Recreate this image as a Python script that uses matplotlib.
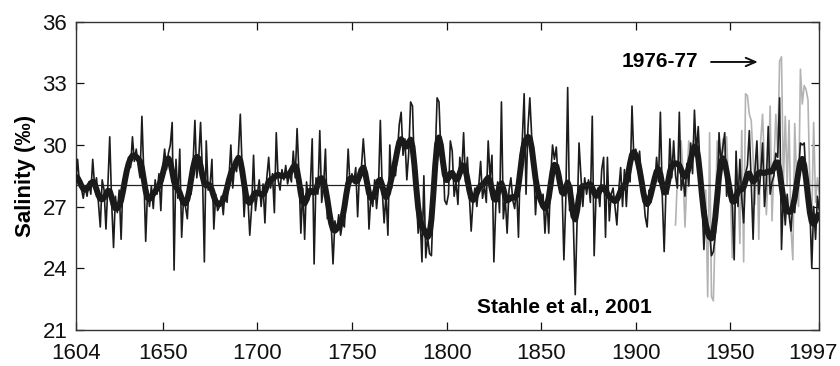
import numpy as np
import matplotlib
matplotlib.use("Agg")
import matplotlib.pyplot as plt
from matplotlib.transforms import ScaledTranslation

plt.rcParams['font.family'] = ['Liberation Sans', 'DejaVu Sans']

# Reconstructed annual salinity (per mille), 1604-1997, split by century
recon_1600s = [
    28.2, 29.3, 28.1, 27.9, 27.4, 28.0,
    27.5, 28.2, 27.6, 29.3, 28.0, 28.4, 27.2, 26.0, 28.3, 27.8,
    25.9, 28.0, 30.4, 27.2, 25.0, 27.5, 26.7, 27.8, 25.4, 28.2,
    28.6, 28.9, 29.4, 28.9, 30.4, 29.2, 29.8, 29.0, 28.4, 31.4,
    28.6, 25.3, 27.8, 27.0, 28.0, 26.9, 28.3, 27.6, 28.6, 26.8,
    28.9, 29.8, 28.8, 29.6, 30.0, 31.1, 23.9, 29.3, 27.4, 29.8,
    25.5, 27.4, 27.0, 26.4, 28.2, 27.6, 29.0, 31.2, 28.4, 29.3,
    31.1, 28.6, 24.3, 30.2, 27.8, 28.0, 29.3, 25.9, 27.6, 26.8,
    27.0, 27.5, 26.6, 27.9, 27.2, 28.4, 30.0, 27.9, 29.1, 28.7,
    29.6, 31.5, 28.8, 26.5, 28.0, 27.4, 25.6, 27.0, 29.5, 26.8,
]
recon_1700s = [
    27.6, 28.3, 27.0, 28.1, 26.2, 28.4, 29.4, 27.9, 28.6, 26.7,
    30.6, 28.3, 27.8, 28.8, 28.3, 29.0, 28.1, 28.6, 28.2, 29.7,
    28.4, 30.8, 28.6, 25.7, 27.9, 25.4, 28.2, 27.3, 28.0, 30.3,
    24.2, 28.4, 27.6, 30.7, 27.2, 28.0, 29.8, 26.4, 27.0, 26.2,
    24.2, 26.3, 25.8, 26.6, 25.6, 26.2, 26.0, 27.8, 29.8, 28.0,
    28.6, 28.2, 28.9, 26.5, 28.7, 28.9, 30.3, 29.0, 28.6, 25.9,
    27.5, 27.0, 28.3, 26.9, 27.9, 31.2, 27.8, 26.2, 27.6, 25.6,
    30.0, 27.9, 29.0, 28.5, 29.6, 31.0, 31.6, 29.5, 30.3, 28.3,
    29.6, 32.1, 31.9, 28.8, 27.5, 25.7, 26.5, 24.3, 28.5, 24.5,
    25.5, 24.7, 24.6, 27.2, 29.4, 32.3, 32.1, 29.6, 29.9, 27.3,
]
recon_1800s = [
    27.1, 27.6, 30.2, 29.7, 27.5, 28.2, 27.1, 29.4, 28.6, 30.6,
    28.2, 29.4, 27.6, 25.8, 27.3, 27.9, 27.0, 28.0, 29.2, 27.4,
    28.0, 27.2, 30.2, 28.4, 29.5, 24.3, 27.0, 28.2, 26.7, 32.1,
    26.4, 27.4, 25.7, 27.8, 28.4, 27.3, 26.9, 28.0, 25.5, 29.4,
    30.2, 32.5, 27.6, 30.8, 32.3, 30.4, 29.2, 26.6, 28.2, 27.6,
    27.0, 27.6, 25.7, 27.4, 25.7, 28.4, 30.0, 29.3, 29.9, 28.2,
    28.6, 28.0, 24.4, 27.3, 32.8, 26.8, 28.0, 26.2, 22.7, 26.5,
    30.1, 28.5, 27.0, 28.4, 27.6, 28.3, 27.2, 31.4, 24.6, 27.6,
    27.9, 27.0, 28.8, 29.4, 25.5, 29.4, 26.3, 27.6, 27.9, 27.0,
    26.1, 27.8, 28.9, 27.0, 28.8, 27.0, 28.7, 28.2, 31.9, 29.3,
]
recon_1900s = [
    29.8, 28.8, 29.7, 28.3, 27.6, 26.5, 26.0, 27.8, 27.2, 28.3,
    28.0, 29.4, 28.2, 31.6, 27.5, 24.8, 28.0, 27.6, 30.3, 28.4,
    30.2, 28.5, 27.9, 31.6, 27.8, 28.4, 27.5, 29.1, 28.0, 30.1,
    28.6, 31.7, 29.6, 30.9, 28.8, 27.2, 24.9, 26.8, 25.5, 25.8,
    24.6, 24.8, 25.6, 27.0, 30.6, 29.1, 29.9, 30.6, 27.5, 28.6,
    27.8, 27.0, 24.4, 29.7, 27.0, 29.3, 27.4, 26.2, 28.6, 29.0,
    30.7, 28.2, 25.4, 28.8, 30.2, 27.6, 28.6, 30.1, 27.0, 28.2,
    30.9, 27.6, 28.2, 28.5, 29.6, 29.4, 32.3, 24.9, 27.6, 26.1,
    27.6, 26.6, 25.8, 27.2, 26.7, 28.2, 28.6, 30.1, 30.0, 30.1,
    28.3, 27.2, 26.9, 24.0, 27.0, 25.4, 27.5, 26.8,
]

# Instrumental salinity, 1921-1997
observed = [
    26.1, 28.4, 29.5, 30.2, 28.6, 26.0, 28.3, 30.2, 29.1, 30.0,
    30.4, 29.4, 30.2, 28.2, 27.0, 26.2, 27.8, 22.6, 30.6, 22.6,
    22.4, 26.0, 30.2, 27.2, 28.8, 30.3, 29.4, 30.4, 28.0, 27.6,
    24.5, 27.0, 29.0, 28.4, 25.2, 30.7, 24.3, 32.5, 32.4, 31.5,
    31.2, 29.4, 27.1, 30.0, 25.4, 30.2, 31.5, 29.0, 26.6, 28.6,
    31.9, 26.3, 29.0, 31.5, 29.6, 34.1, 34.3, 28.1, 31.4, 28.0,
    31.2, 25.9, 24.4, 31.05, 28.2, 27.0, 33.7, 32.0, 32.9, 32.7,
    32.2, 28.0, 26.4, 31.1, 27.2, 28.4, 27.6,
]

long_term_mean = 28.05
x_ticks = [1604, 1650, 1700, 1750, 1800, 1850, 1900, 1950, 1997]
y_ticks = [21, 24, 27, 30, 33, 36]

recon = np.array(recon_1600s + recon_1700s + recon_1800s + recon_1900s)
years = np.arange(1604, 1604 + len(recon))
obs_years = np.arange(1921, 1921 + len(observed))

# Gaussian low-pass filter of the annual series
k = np.arange(-5, 6)
w = np.exp(-k**2 / (2 * 1.7**2))
num = np.convolve(recon, w, mode='same')
den = np.convolve(np.ones_like(recon), w, mode='same')
smooth = num / den

fig = plt.figure(figsize=(8.4, 3.66), dpi=100)
ax = fig.add_axes([0.0901, 0.0997, 0.8853, 0.8402])

ax.plot(obs_years, observed, color='#b3b3b3', lw=1.2, zorder=2)
ax.plot(years, recon, color='#1c1c1c', lw=1.2, zorder=3)
ax.plot(years, smooth, color='#1a1a1a', lw=4.3, zorder=4,
        solid_capstyle='butt')
ax.axhline(long_term_mean, color='#222222', lw=0.9, zorder=5)

ax.set_xlim(1604, 1997)
ax.set_ylim(21, 36)
ax.set_xticks(x_ticks)
ax.set_yticks(y_ticks)
ax.tick_params(direction='in', top=True, right=True, length=5.5, width=0.9,
               labelsize=16, colors='#111111')
ax.tick_params(axis='x', pad=10)
ax.tick_params(axis='y', pad=6)
for s in ax.spines.values():
    s.set_linewidth(1.0)
    s.set_color('#333333')

# keep the final year label inside the canvas
last = ax.get_xticklabels()[-1]
last.set_transform(last.get_transform() +
                   ScaledTranslation(-6 / 100, 0, fig.dpi_scale_trans))

ax.set_ylabel('Salinity (‰)', fontsize=16, fontweight='bold', labelpad=5)

ax.text(1933.2, 34.05, '1976-77', fontsize=15, fontweight='bold',
        ha='right', va='center')
ax.annotate('', xy=(1966.0, 34.05), xytext=(1938.3, 34.05),
            arrowprops=dict(arrowstyle='->,head_length=0.7,head_width=0.3',
                            lw=1.4, color='#111111'))
ax.text(1862.1, 22.05, 'Stahle et al., 2001', fontsize=15,
        fontweight='bold', ha='center', va='center')

fig.savefig('out.png', dpi=100)
